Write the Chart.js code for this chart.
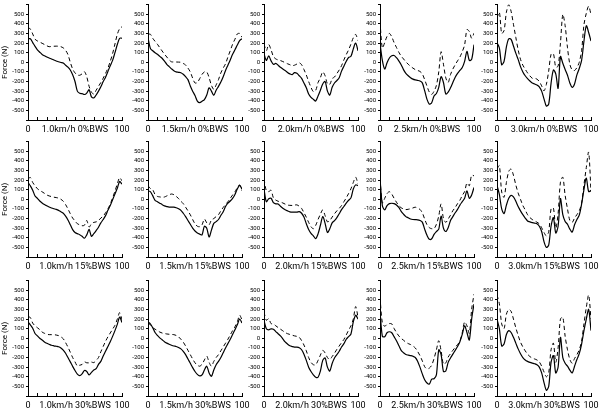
<!DOCTYPE html>
<html><head><meta charset="utf-8">
<script src="https://cdn.jsdelivr.net/npm/chart.js@4/dist/chart.umd.min.js"></script>
<style>
html,body{margin:0;padding:0;background:#fff;width:600px;height:413px;overflow:hidden;position:relative;}
canvas{position:absolute;}
</style></head><body>
<script>
// gait cycle (%)
const pct = [0,2.5,5,7.5,10,12.5,15,17.5,20,22.5,25,27.5,30,32.5,35,37.5,40,42.5,45,47.5,50,52.5,55,57.5,60,62.5,65,67.5,70,72.5,75,77.5,80,82.5,85,87.5,90,92.5,95,97.5,100];
const speeds = ['1.0km/h','1.5km/h','2.0km/h','2.5km/h','3.0km/h'];
const loads = ['0%BWS','15%BWS','30%BWS'];
const yTickValues = [-500,-400,-300,-200,-100,0,100,200,300,400,500];
const xTickLabels = ['0','100'];

// 0%BWS — solid / dashed
const s10_0 = [245,245,205,165,130,105,82,68,55,44,35,24,14,6,-2,-8,-30,-50,-80,-130,-200,-300,-322,-326,-335,-320,-285,-360,-370,-340,-300,-255,-200,-155,-95,-35,20,100,185,250,250];
const d10_0 = [368,345,295,240,222,210,198,185,172,162,165,167,168,167,162,150,125,80,0,-70,-110,-132,-135,-120,-97,-150,-250,-310,-330,-290,-250,-210,-165,-115,-60,10,90,190,290,350,370];
const s15_0 = [257,145,120,100,83,62,42,12,-21,-45,-68,-88,-100,-104,-108,-125,-150,-180,-247,-300,-345,-403,-420,-405,-388,-340,-265,-300,-343,-290,-250,-205,-150,-85,-30,25,83,130,180,225,245];
const d15_0 = [292,292,250,218,188,153,118,85,55,25,5,4,3,2,0,-12,-28,-60,-100,-165,-215,-210,-170,-125,-100,-100,-160,-240,-281,-235,-180,-110,-60,-15,55,120,188,240,295,300,260];
const s20_0 = [90,20,66,15,-21,-12,-30,-52,-70,-85,-105,-120,-128,-108,-115,-140,-167,-215,-265,-330,-365,-385,-403,-350,-290,-225,-200,-300,-340,-260,-215,-190,-160,-92,-40,10,50,62,140,200,120];
const d20_0 = [188,120,185,130,60,35,25,18,8,-4,-15,-25,-35,-30,-18,-5,-25,-75,-132,-200,-260,-305,-292,-210,-160,-100,-140,-225,-229,-170,-153,-118,-80,-35,25,80,130,190,255,290,225];
const s25_0 = [200,20,-70,-5,45,68,70,48,15,-25,-76,-115,-140,-160,-175,-183,-188,-195,-214,-295,-386,-435,-420,-350,-325,-260,-150,-210,-330,-310,-265,-210,-155,-115,-85,-55,10,114,20,30,183];
const d25_0 = [420,148,205,270,300,265,205,155,105,65,35,5,-20,-42,-60,-76,-85,-95,-120,-180,-248,-310,-334,-300,-240,-100,110,-20,-162,-210,-128,-70,-25,15,55,110,180,340,321,250,303];
const s30_0 = [203,150,-25,10,160,245,238,169,95,30,-45,-100,-140,-170,-195,-215,-225,-236,-255,-300,-380,-455,-434,-220,-80,-120,-270,60,-10,-75,-135,-215,-260,-225,-130,-65,20,220,380,310,221];
const d30_0 = [462,520,300,330,520,600,530,395,260,130,31,-30,-72,-110,-141,-166,-166,-175,-200,-245,-297,-230,-90,83,90,-50,-40,200,497,380,150,-20,-80,-85,-55,0,120,390,510,583,497];

// 15%BWS
const s10_15 = [175,140,95,35,10,-18,-38,-55,-68,-80,-90,-98,-105,-115,-130,-145,-175,-215,-265,-315,-345,-357,-368,-385,-405,-370,-313,-385,-357,-325,-290,-245,-210,-170,-115,-65,-5,55,115,185,158];
const d10_15 = [210,227,175,140,110,92,78,62,45,35,28,22,18,12,0,-20,-55,-100,-150,-195,-225,-254,-265,-275,-270,-220,-289,-255,-240,-235,-220,-195,-175,-140,-100,-50,15,85,160,225,192];
const s15_15 = [89,79,38,-10,-25,-40,-55,-68,-76,-82,-82,-82,-88,-98,-115,-145,-180,-220,-260,-300,-330,-350,-362,-370,-280,-300,-392,-320,-250,-232,-210,-168,-130,-75,-40,-18,10,50,107,145,107];
const d15_15 = [141,113,100,50,30,25,21,24,35,47,55,48,30,8,-20,-45,-82,-120,-161,-210,-255,-280,-285,-265,-205,-245,-265,-215,-200,-180,-160,-120,-85,-55,-25,10,45,78,120,150,89];
const s20_15 = [107,-25,5,10,-35,-48,-48,-72,-92,-108,-120,-130,-134,-134,-134,-128,-145,-185,-254,-315,-355,-380,-409,-360,-270,-180,-250,-345,-306,-245,-222,-190,-150,-108,-75,-40,-10,15,107,150,141];
const d20_15 = [210,89,80,95,15,-8,-20,-28,-38,-50,-60,-63,-64,-60,-58,-72,-95,-140,-186,-240,-285,-306,-271,-210,-155,-110,-170,-235,-220,-185,-150,-120,-95,-65,-25,15,60,110,175,230,158];
const s25_15 = [216,-65,-110,-65,-45,-41,-45,-60,-85,-125,-155,-180,-192,-205,-210,-212,-213,-220,-237,-310,-375,-415,-410,-365,-335,-310,-175,-300,-335,-295,-220,-180,-140,-105,-60,-25,10,89,10,45,124];
const d25_15 = [210,-40,10,60,79,55,10,-30,-65,-88,-100,-107,-104,-98,-90,-82,-92,-105,-140,-205,-265,-295,-306,-305,-260,-175,-48,-200,-240,-205,-165,-118,-85,-45,-10,40,80,170,141,250,244];
const s30_15 = [145,50,-100,-148,-60,10,41,24,-20,-75,-120,-160,-195,-225,-235,-243,-248,-255,-280,-335,-440,-500,-476,-280,-190,-350,-280,7,-160,-230,-260,-310,-340,-265,-210,-165,-50,100,220,80,93];
const d30_15 = [317,350,76,20,175,290,315,250,150,65,0,-65,-110,-160,-190,-210,-225,-238,-255,-295,-345,-380,-338,-100,-90,-300,-150,179,230,40,-100,-220,-240,-195,-160,-120,-40,150,330,490,76];

// 30%BWS
const s10_30 = [168,140,105,50,25,0,-18,-38,-52,-62,-72,-78,-83,-88,-100,-122,-155,-200,-245,-292,-335,-372,-388,-370,-335,-345,-380,-355,-330,-315,-271,-240,-185,-135,-85,-35,20,80,145,220,164];
const d10_30 = [226,216,158,130,110,90,65,52,42,38,38,38,34,28,15,-5,-45,-92,-145,-200,-245,-288,-280,-272,-245,-255,-255,-247,-253,-230,-200,-140,-85,-31,15,55,95,135,200,267,192];
const s15_30 = [170,150,110,60,30,5,-15,-35,-50,-62,-72,-80,-85,-95,-110,-135,-170,-215,-260,-305,-345,-375,-390,-380,-330,-290,-360,-395,-330,-275,-240,-200,-150,-100,-55,-10,40,90,140,200,160];
const d15_30 = [160,140,110,95,80,65,55,50,45,42,40,38,30,15,-10,-40,-80,-125,-170,-215,-255,-280,-290,-270,-225,-185,-250,-290,-240,-200,-170,-130,-90,-50,-10,35,80,120,170,240,190];
const s20_30 = [187,100,88,98,95,70,48,25,-5,-38,-60,-78,-86,-92,-92,-98,-119,-165,-230,-300,-345,-380,-405,-405,-340,-230,-204,-300,-340,-262,-205,-170,-135,-90,-55,-10,17,45,170,240,200];
const d20_30 = [272,187,204,153,150,130,112,95,78,60,48,40,32,25,20,10,-24,-70,-130,-200,-250,-275,-275,-230,-175,-125,-153,-200,-221,-190,-155,-115,-80,-45,-12,35,85,130,200,330,221];
const s25_30 = [289,20,17,58,68,58,17,-25,-75,-125,-150,-168,-175,-180,-187,-200,-238,-300,-370,-430,-465,-476,-425,-420,-380,-120,-170,-345,-340,-250,-205,-165,-125,-85,-35,40,130,60,-17,200,357];
const d25_30 = [425,160,125,145,153,150,102,60,25,0,-20,-40,-55,-65,-80,-100,-136,-180,-235,-295,-318,-310,-280,-210,-120,-25,-130,-270,-255,-195,-160,-125,-95,-65,-30,60,170,130,51,300,459];
const s30_30 = [200,100,-80,-60,40,80,60,10,-50,-110,-160,-200,-225,-240,-250,-258,-265,-275,-300,-360,-460,-540,-500,-250,-180,-360,-300,10,-200,-260,-290,-330,-360,-290,-220,-160,-60,80,200,300,80];
const d30_30 = [450,360,150,100,250,300,280,200,110,30,-40,-90,-130,-165,-190,-205,-215,-225,-245,-290,-350,-400,-360,-120,-50,-250,-100,200,220,20,-120,-220,-260,-210,-170,-120,-30,150,320,450,200];

const solidSets = [[s10_0,s15_0,s20_0,s25_0,s30_0],[s10_15,s15_15,s20_15,s25_15,s30_15],[s10_30,s15_30,s20_30,s25_30,s30_30]];
const dashedSets = [[d10_0,d15_0,d20_0,d25_0,d30_0],[d10_15,d15_15,d20_15,d25_15,d30_15],[d10_30,d15_30,d20_30,d25_30,d30_30]];

// layout (pixels)
const colAxisX = [28,148,264,380,497];
const rowTop = [4,141,280];
const Y_W = 28, PAD_TOP = 5, PLOT_W = 94, PLOT_H = 116, X_H = 18, PAD_R = 12;
const FONT = "Roboto,'Liberation Sans',Arial,sans-serif";

const innerTicks = {
  id:'innerTicks',
  afterDraw(chart){
    const xs = chart.scales.x, ctx = chart.ctx, b = chart.chartArea.bottom;
    ctx.save(); ctx.strokeStyle = '#000'; ctx.lineWidth = 1;
    xs.ticks.forEach(t => {
      if (t.value <= xs.min) return;
      const px = Math.round(xs.getPixelForValue(t.value)) + 0.5;
      ctx.beginPath(); ctx.moveTo(px, b); ctx.lineTo(px, b - 3); ctx.stroke();
    });
    ctx.restore();
  }
};

function toXY(arr){ return arr.map((v,i) => ({x: pct[i], y: v})); }

for (let r = 0; r < 3; r++) {
  for (let c = 0; c < 5; c++) {
    const cv = document.createElement('canvas');
    const W = Y_W + PLOT_W + PAD_R, H = PAD_TOP + PLOT_H + X_H;
    cv.width = W; cv.height = H;
    cv.style.left = (colAxisX[c] - Y_W) + 'px';
    cv.style.top = (rowTop[r] - PAD_TOP) + 'px';
    cv.style.width = W + 'px'; cv.style.height = H + 'px';
    document.body.appendChild(cv);
    const label = speeds[c] + ' ' + loads[r];
    new Chart(cv, {
      type: 'line',
      data: { datasets: [
        { data: toXY(solidSets[r][c]), borderColor:'#000', borderWidth:1.2, pointRadius:0, tension:0.3, fill:false },
        { data: toXY(dashedSets[r][c]), borderColor:'#000', borderWidth:1, borderDash:[4,3], pointRadius:0, tension:0.3, fill:false }
      ]},
      options: {
        responsive:false, animation:false, devicePixelRatio:1,
        layout:{ padding:{ top:PAD_TOP, right:PAD_R, left:0, bottom:0 } },
        plugins:{ legend:{display:false}, tooltip:{enabled:false} },
        scales:{
          x:{ type:'linear', min:0, max:100,
            ticks:{ stepSize:10, autoSkip:false, maxRotation:0, padding:4, color:'#000',
              font:{ family:FONT, size:9 },
              callback:(v) => v === 0 ? xTickLabels[0] : v === 100 ? xTickLabels[1] : v === 50 ? label : '' },
            grid:{ display:false, drawTicks:false },
            border:{ display:true, color:'#000', width:1 },
            afterFit:(s) => { s.height = X_H; }
          },
          y:{ min:-600, max:600,
            ticks:{ stepSize:100, autoSkip:false, padding:2, color:'#000',
              font:{ family:FONT, size:6 },
              callback:(v) => yTickValues.includes(v) ? String(v) : '' },
            grid:{ drawOnChartArea:false, drawTicks:true, tickLength:2, color:'#000' },
            border:{ display:true, color:'#000', width:1 },
            title: c === 0 ? { display:true, text:'Force (N)', color:'#000', padding:0, font:{ family:FONT, size:8 } } : { display:false },
            afterFit:(s) => { s.width = Y_W; }
          }
        }
      },
      plugins:[innerTicks]
    });
  }
}
</script>
</body></html>
